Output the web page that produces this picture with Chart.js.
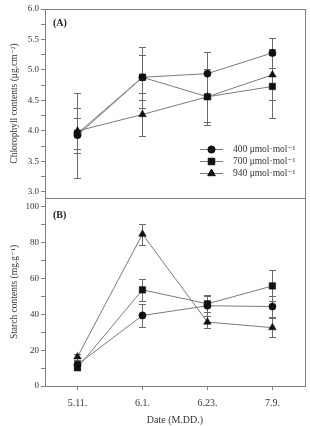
<!DOCTYPE html>
<html>
<head>
<meta charset="utf-8">
<script src="https://cdn.jsdelivr.net/npm/chart.js@4.4.0/dist/chart.umd.min.js"></script>
<style>
    html, body { margin: 0; padding: 0; background: #fff; }
    #wrap { position: relative; width: 310px; height: 426px; }
    canvas { position: absolute; left: 0; top: 0; }
</style>
</head>
<body>
<div id="wrap">
    <canvas id="chartA" width="310" height="426"></canvas>
    <canvas id="chartB" width="310" height="426"></canvas>
</div>
<script>
// sampling dates (M.DD.)
const dates = ["5.11.", "6.1.", "6.23.", "7.9."];
const seriesNames = ["400 μmol·mol⁻¹", "700 μmol·mol⁻¹", "940 μmol·mol⁻¹"];

// (A) chlorophyll contents, µg.cm-2
const chl400 = [3.93, 4.88, 4.94, 5.28];
const chl400Err = [0.70, 0.50, 0.35, 0.24];
const chl700 = [3.96, 4.88, 4.56, 4.73];
const chl700Err = [0.25, 0.37, 0.46, 0.51];
const chl940 = [4.00, 4.27, 4.56, 4.92];
const chl940Err = [0.37, 0.35, 0.41, 0.42];

// (B) starch contents, mg.g-1
const starch400 = [12.0, 39.4, 44.8, 44.4];
const starch400Err = [2.0, 6.5, 5.8, 6.0];
const starch700 = [10.2, 53.7, 45.9, 55.9];
const starch700Err = [1.5, 6.2, 4.5, 8.7];
const starch940 = [16.3, 84.8, 35.7, 32.6];
const starch940Err = [1.5, 5.8, 3.5, 5.2];

// axis ticks (major + minor)
const chlTicks = [3.0, 3.25, 3.5, 3.75, 4.0, 4.25, 4.5, 4.75, 5.0, 5.25, 5.5, 5.75, 6.0];
const starchTicks = [0, 10, 20, 30, 40, 50, 60, 70, 80, 90, 100];

const FONT = "'Liberation Serif', 'DejaVu Serif', serif";
const TEXT = "#333";
const AXIS = "#808080";
const LINE = "#7a7a7a";
const MARK = "#111";

const markers = [
    { style: "circle", radius: 3.6 },
    { style: "rect", radius: 4.6 },
    { style: "triangle", radius: 4.4 }
];

function makeSets(values, errors) {
    return values.map((vals, i) => ({
        label: seriesNames[i],
        data: vals,
        errors: errors[i],
        borderColor: LINE,
        borderWidth: 1,
        pointStyle: markers[i].style,
        pointRadius: markers[i].radius,
        pointBackgroundColor: MARK,
        pointBorderColor: MARK,
        pointBorderWidth: 0.5,
        tension: 0
    }));
}

const errorBars = {
    id: "errorBars",
    beforeDatasetsDraw(chart) {
        const ctx = chart.ctx;
        const xs = chart.scales.x, ys = chart.scales.y;
        ctx.save();
        ctx.strokeStyle = "#6a6a6a";
        ctx.lineWidth = 1;
        chart.data.datasets.forEach(ds => {
            ds.data.forEach((v, i) => {
                const px = Math.round(xs.getPixelForValue(i)) + 0.5;
                const t = Math.round(ys.getPixelForValue(v + ds.errors[i])) + 0.5;
                const b = Math.round(ys.getPixelForValue(v - ds.errors[i])) + 0.5;
                ctx.beginPath();
                ctx.moveTo(px, t); ctx.lineTo(px, b);
                ctx.moveTo(px - 3.5, t); ctx.lineTo(px + 3.5, t);
                ctx.moveTo(px - 3.5, b); ctx.lineTo(px + 3.5, b);
                ctx.stroke();
            });
        });
        ctx.restore();
    }
};

const frame = {
    id: "frame",
    afterDraw(chart, args, opts) {
        const a = chart.chartArea, ctx = chart.ctx;
        ctx.save();
        ctx.strokeStyle = AXIS;
        ctx.lineWidth = 1;
        ctx.strokeRect(Math.round(a.left) + 0.5, Math.round(a.top) + 0.5,
            Math.round(a.right - a.left), Math.round(a.bottom - a.top));
        ctx.fillStyle = "#222";
        ctx.font = "bold 10px " + FONT;
        ctx.textBaseline = "middle";
        ctx.fillText(opts.tag, a.left + 8, a.top + opts.tagY);
        ctx.restore();
    }
};

const lineLegend = {
    id: "lineLegend",
    afterDraw(chart, args, opts) {
        if (!opts.show) return;
        const ctx = chart.ctx;
        ctx.save();
        chart.data.datasets.forEach((ds, i) => {
            const y = opts.y + i * opts.step;
            ctx.strokeStyle = LINE;
            ctx.lineWidth = 1;
            ctx.beginPath();
            ctx.moveTo(opts.x, y + 0.5);
            ctx.lineTo(opts.x + 23, y + 0.5);
            ctx.stroke();
            ctx.fillStyle = MARK;
            ctx.strokeStyle = MARK;
            Chart.helpers.drawPoint(ctx, { pointStyle: ds.pointStyle, radius: ds.pointRadius, borderWidth: 0.5 }, opts.x + 11.5, y + 0.5);
            ctx.fillStyle = TEXT;
            ctx.font = "9.5px " + FONT;
            ctx.textBaseline = "middle";
            ctx.fillText(ds.label, opts.x + 33, y + 0.5);
        });
        ctx.restore();
    }
};

function yScale(min, max, tickList, major, digits, title) {
    return {
        min: min,
        max: max,
        afterBuildTicks: s => { s.ticks = tickList.map(v => ({ value: v })); },
        afterFit: s => { s.width = 45; },
        ticks: {
            callback: v => (Math.abs(v / major - Math.round(v / major)) < 1e-6 ? v.toFixed(digits) : ""),
            font: { family: FONT, size: 9 },
            color: TEXT,
            padding: 2
        },
        grid: { drawOnChartArea: false, tickLength: 4, color: AXIS },
        border: { color: AXIS },
        title: {
            display: true,
            text: title,
            font: { family: FONT, size: 9.5 },
            color: TEXT,
            padding: { top: 9, bottom: 0 }
        }
    };
}

new Chart(document.getElementById("chartA"), {
    type: "line",
    data: { labels: dates, datasets: makeSets([chl400, chl700, chl940], [chl400Err, chl700Err, chl940Err]) },
    options: {
        responsive: false,
        animation: false,
        layout: { padding: { top: 9, right: 4, bottom: 228, left: 0 } },
        plugins: {
            legend: { display: false },
            tooltip: { enabled: false },
            frame: { tag: "(A)", tagY: 14 },
            lineLegend: { show: true, x: 200, y: 149, step: 12 }
        },
        scales: {
            x: { display: false, offset: true },
            y: yScale(2.9, 6.0, chlTicks, 0.5, 1, "Chlorophyll contents (μg.cm⁻²)")
        }
    },
    plugins: [errorBars, frame, lineLegend]
});

new Chart(document.getElementById("chartB"), {
    type: "line",
    data: { labels: dates, datasets: makeSets([starch400, starch700, starch940], [starch400Err, starch700Err, starch940Err]) },
    options: {
        responsive: false,
        animation: false,
        layout: { padding: { top: 198, right: 4, bottom: 0, left: 0 } },
        plugins: {
            legend: { display: false },
            tooltip: { enabled: false },
            frame: { tag: "(B)", tagY: 17 },
            lineLegend: { show: false }
        },
        scales: {
            x: {
                offset: true,
                afterFit: s => { s.height = 40; },
                ticks: { font: { family: FONT, size: 10 }, color: TEXT, padding: 7 },
                grid: { offset: false, drawOnChartArea: false, tickLength: 4, color: AXIS },
                border: { color: AXIS },
                title: {
                    display: true,
                    text: "Date (M.DD.)",
                    font: { family: FONT, size: 10 },
                    color: TEXT,
                    padding: { top: 4, bottom: 0 }
                }
            },
            y: yScale(0, 105, starchTicks, 20, 0, "Starch contents (mg.g⁻¹)")
        }
    },
    plugins: [errorBars, frame, lineLegend]
});
</script>
</body>
</html>
